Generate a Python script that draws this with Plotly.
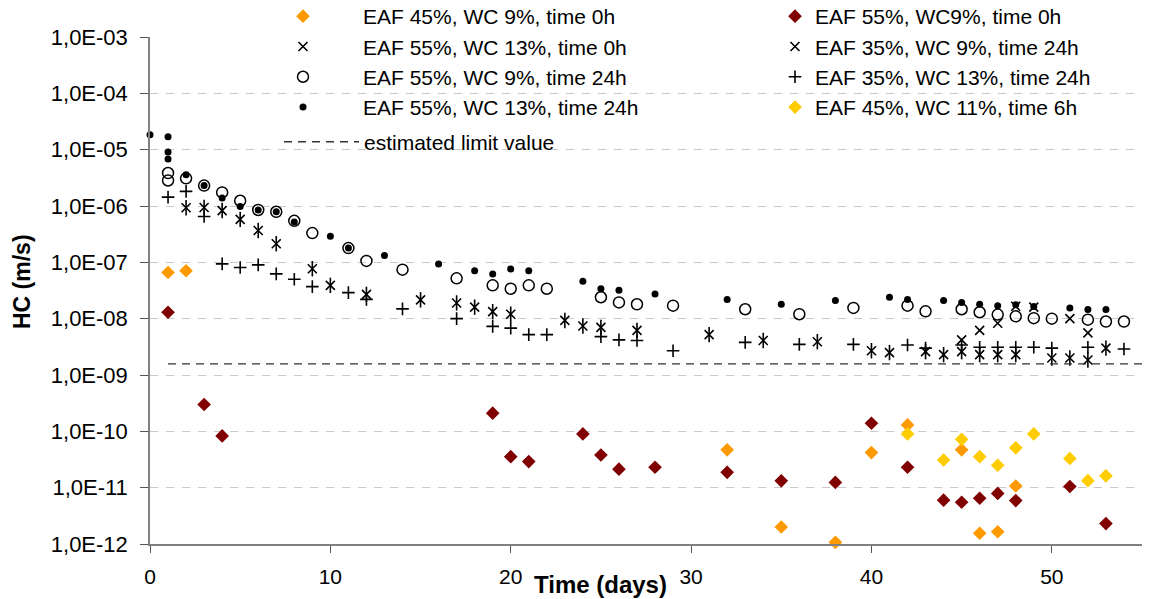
import plotly.graph_objects as go

# ---------------- data ----------------
eaf45_wc9_0h_x = [1, 2, 32, 35, 38, 40, 42, 45, 46, 47, 48]
eaf45_wc9_0h_y = [6.6e-8, 7.1e-8, 4.7e-11, 2.0e-12, 1.07e-12, 4.2e-11, 1.3e-10,
                  4.7e-11, 1.55e-12, 1.65e-12, 1.07e-11]

eaf55_wc9_0h_x = [1, 3, 4, 19, 20, 21, 24, 25, 26, 28, 32, 35, 38, 40, 42, 44,
                  45, 46, 47, 48, 51, 53]
eaf55_wc9_0h_y = [1.3e-8, 3.0e-10, 8.3e-11, 2.1e-10, 3.55e-11, 2.9e-11, 9.0e-11,
                  3.8e-11, 2.13e-11, 2.3e-11, 1.87e-11, 1.32e-11, 1.24e-11,
                  1.39e-10, 2.3e-11, 6.0e-12, 5.5e-12, 6.5e-12, 7.9e-12, 5.9e-12,
                  1.05e-11, 2.3e-12]

eaf55_wc13_0h_x = [45, 46, 47, 48, 49, 51, 52]
eaf55_wc13_0h_y = [4.2e-9, 6.2e-9, 8.3e-9, 1.66e-8, 1.6e-8, 1.0e-8, 5.6e-9]

eaf35_wc9_24h_x = [2, 3, 4, 5, 6, 7, 9, 10, 12, 15, 17, 18, 19, 20, 23, 24, 25,
                   27, 31, 34, 37, 40, 41, 43, 44, 45, 46, 47, 48, 50, 51, 52, 53]
eaf35_wc9_24h_y = [9.3e-7, 9.4e-7, 8.3e-7, 5.8e-7, 3.67e-7, 2.14e-7, 7.7e-8,
                   3.9e-8, 2.7e-8, 2.16e-8, 1.9e-8, 1.6e-8, 1.33e-8, 1.2e-8,
                   9.3e-9, 7.4e-9, 7.0e-9, 6.2e-9, 5.2e-9, 4.1e-9, 3.9e-9, 2.7e-9,
                   2.5e-9, 2.6e-9, 2.3e-9, 2.6e-9, 2.3e-9, 2.3e-9, 2.3e-9, 2.0e-9,
                   2.0e-9, 1.85e-9, 3.0e-9]

eaf55_wc9_24h_x = [1, 1, 2, 3, 4, 5, 6, 7, 8, 9, 11, 12, 14, 17, 19, 20, 21, 22,
                   25, 26, 27, 29, 33, 36, 39, 42, 43, 45, 46, 47, 48, 49, 50, 52,
                   53, 54]
eaf55_wc9_24h_y = [3.85e-6, 2.84e-6, 3.1e-6, 2.3e-6, 1.74e-6, 1.24e-6, 8.5e-7,
                   7.9e-7, 5.45e-7, 3.3e-7, 1.79e-7, 1.06e-7, 7.4e-8, 5.2e-8,
                   3.9e-8, 3.4e-8, 3.9e-8, 3.4e-8, 2.4e-8, 1.94e-8, 1.8e-8, 1.7e-8,
                   1.47e-8, 1.2e-8, 1.55e-8, 1.7e-8, 1.35e-8, 1.47e-8, 1.3e-8,
                   1.18e-8, 1.1e-8, 1.02e-8, 1.0e-8, 9.6e-9, 8.9e-9, 8.9e-9]

eaf35_wc13_24h_x = [1, 2, 3, 4, 5, 6, 7, 8, 9, 11, 12, 14, 17, 19, 20, 21, 22, 25,
                    26, 27, 29, 33, 36, 39, 42, 43, 45, 46, 47, 48, 49, 50, 52, 54]
eaf35_wc13_24h_y = [1.44e-6, 1.82e-6, 6.5e-7, 9.4e-8, 8.1e-8, 9.0e-8, 6.25e-8,
                    5.0e-8, 3.7e-8, 2.9e-8, 2.2e-8, 1.49e-8, 1.0e-8, 7.3e-9,
                    6.8e-9, 5.2e-9, 5.2e-9, 4.8e-9, 4.2e-9, 4.1e-9, 2.7e-9,
                    3.8e-9, 3.5e-9, 3.5e-9, 3.4e-9, 3.0e-9, 3.4e-9, 3.1e-9,
                    3.1e-9, 3.1e-9, 3.1e-9, 3.0e-9, 3.1e-9, 2.9e-9]

eaf55_wc13_24h_x = [0, 1, 1, 1, 2, 3, 4, 5, 6, 7, 8, 10, 11, 13, 16, 18, 19, 20,
                    21, 24, 25, 26, 28, 32, 35, 38, 41, 42, 44, 45, 46, 47, 48,
                    49, 51, 52, 53]
eaf55_wc13_24h_y = [1.84e-5, 1.7e-5, 9.1e-6, 6.8e-6, 3.6e-6, 2.3e-6, 1.38e-6,
                    9.8e-7, 8.5e-7, 7.9e-7, 5.2e-7, 2.9e-7, 1.79e-7, 1.32e-7,
                    9.3e-8, 7.1e-8, 6.2e-8, 7.6e-8, 7.1e-8, 4.6e-8, 3.4e-8,
                    3.2e-8, 2.75e-8, 2.2e-8, 1.8e-8, 2.1e-8, 2.4e-8, 2.2e-8,
                    2.1e-8, 1.94e-8, 1.8e-8, 1.7e-8, 1.76e-8, 1.65e-8, 1.55e-8,
                    1.45e-8, 1.45e-8]

eaf45_wc11_6h_x = [42, 44, 45, 46, 47, 48, 49, 51, 52, 53]
eaf45_wc11_6h_y = [9.0e-11, 3.1e-11, 7.2e-11, 3.55e-11, 2.5e-11, 5.1e-11, 9.0e-11,
                   3.3e-11, 1.33e-11, 1.62e-11]

limit_x = [1, 55]
limit_y = [1.58e-9, 1.58e-9]

y_tick_vals = [1e-12, 1e-11, 1e-10, 1e-9, 1e-8, 1e-7, 1e-6, 1e-5, 1e-4, 1e-3]
y_tick_text = ["1,0E-12", "1,0E-11", "1,0E-10", "1,0E-09", "1,0E-08",
               "1,0E-07", "1,0E-06", "1,0E-05", "1,0E-04", "1,0E-03"]
x_tick_vals = [0, 10, 20, 30, 40, 50]

FONT = "Arial, Liberation Sans, sans-serif"
ORANGE = "#FF9900"
DARKRED = "#800000"
YELLOW = "#FFCC00"

# plot-area geometry in pixels
L, R, T, B = 150, 26, 37, 55
PW, PH = 1168 - L - R, 599 - T - B


def px_x(px):
    return (px - L) / PW


def px_y(py):
    return 1 - (py - T) / PH


fig = go.Figure()


def add(x, y, name, legend, group, marker, showlegend=True):
    fig.add_trace(go.Scatter(
        x=x, y=y, mode="markers", name=name, legend=legend,
        legendgroup=group, showlegend=showlegend, marker=marker,
        cliponaxis=False))


# legend column 1
add(eaf45_wc9_0h_x, eaf45_wc9_0h_y, "EAF 45%, WC 9%, time 0h", "legend", "a",
    dict(symbol="diamond", size=10.5, color=ORANGE))
add(eaf55_wc13_0h_x, eaf55_wc13_0h_y, "EAF 55%, WC 13%, time 0h", "legend", "b",
    dict(symbol="x-thin-open", size=9, color="black", line=dict(color="black", width=1.6)))
add(eaf55_wc9_24h_x, eaf55_wc9_24h_y, "EAF 55%, WC 9%, time 24h", "legend", "c",
    dict(symbol="circle-open", size=11, color="black", line=dict(color="black", width=1.5)))
add(eaf55_wc13_24h_x, eaf55_wc13_24h_y, "EAF 55%, WC 13%, time 24h", "legend", "d",
    dict(symbol="circle", size=7, color="black"))

# legend column 2
add(eaf55_wc9_0h_x, eaf55_wc9_0h_y, "EAF 55%, WC9%, time 0h", "legend2", "e",
    dict(symbol="diamond", size=10.5, color=DARKRED))
add(eaf35_wc9_24h_x, eaf35_wc9_24h_y, "EAF 35%, WC 9%, time 24h", "legend2", "f",
    dict(symbol="x-thin-open", size=9, color="black", line=dict(color="black", width=1.6)))
add(eaf35_wc9_24h_x, eaf35_wc9_24h_y, "EAF 35%, WC 9%, time 24h", "legend2", "f",
    dict(symbol="line-ns-open", size=11, color="black", line=dict(color="black", width=1.6)),
    showlegend=False)
add(eaf35_wc13_24h_x, eaf35_wc13_24h_y, "EAF 35%, WC 13%, time 24h", "legend2", "g",
    dict(symbol="cross-thin-open", size=9, color="black", line=dict(color="black", width=1.6)))
add(eaf45_wc11_6h_x, eaf45_wc11_6h_y, "EAF 45%, WC 11%, time 6h", "legend2", "h",
    dict(symbol="diamond", size=10.5, color=YELLOW))

# limit line
fig.add_trace(go.Scatter(
    x=limit_x, y=limit_y, mode="lines", name="estimated limit value",
    legend="legend3", line=dict(color="#333333", width=1.3, dash="8px,6px")))

fig.update_layout(
    width=1168, height=599,
    margin=dict(l=L, r=R, t=T, b=B, autoexpand=False),
    paper_bgcolor="white", plot_bgcolor="white",
    font=dict(family=FONT, size=21, color="black"),
    xaxis=dict(range=[0, 55], tickvals=x_tick_vals, ticks="outside", ticklen=7,
               tickcolor="#555555", showgrid=False, zeroline=False,
               showline=True, linecolor="#808080", linewidth=1.5,
               tickfont=dict(size=21), ticklabelstandoff=6),
    yaxis=dict(type="log", range=[-12, -3], tickvals=y_tick_vals,
               ticktext=y_tick_text, ticks="outside", ticklen=8,
               tickcolor="#555555", showgrid=True, gridcolor="#C8C8C8",
               griddash="8px,8px", gridwidth=1, zeroline=False, showline=True,
               linecolor="#808080", linewidth=1.5, tickfont=dict(size=22),
               ticklabelstandoff=8),
    legend=dict(x=px_x(243), y=px_y(-4), xanchor="left",
                yanchor="top", bgcolor="rgba(0,0,0,0)", itemwidth=110,
                tracegroupgap=0, font=dict(size=21)),
    legend2=dict(x=px_x(775), y=px_y(-4), xanchor="left",
                 yanchor="top", bgcolor="rgba(0,0,0,0)", itemwidth=30,
                 tracegroupgap=0, font=dict(size=21)),
    legend3=dict(x=px_x(279), y=px_y(121.6), xanchor="left",
                 yanchor="top", bgcolor="rgba(0,0,0,0)", itemwidth=75,
                 font=dict(size=21)),
    showlegend=True,
)

fig.add_annotation(text="<b>HC (m/s)</b>", xref="paper", yref="paper",
                   x=px_x(22), y=px_y(282), textangle=-90,
                   showarrow=False, font=dict(size=23), xanchor="center",
                   yanchor="middle")
fig.add_annotation(text="<b>Time (days)</b>", xref="paper", yref="paper",
                   x=px_x(600), y=px_y(584), showarrow=False,
                   font=dict(size=24), xanchor="center", yanchor="middle")

fig.write_html("out.html",
               config={"displayModeBar": False},
               post_script="document.body.style.margin='0';"
                           "document.body.style.padding='0';")
